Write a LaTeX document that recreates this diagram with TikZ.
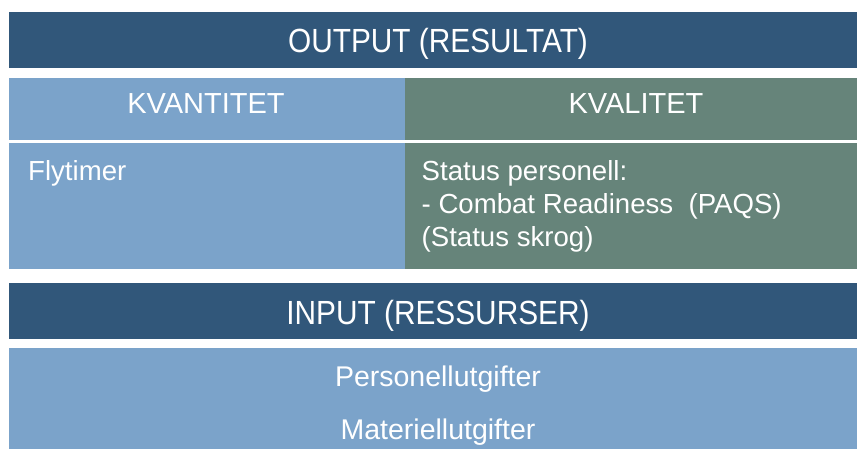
\documentclass[tikz,border=0pt]{standalone}
\usepackage{fontspec}
\setmainfont{Liberation Sans}
\newfontfamily\hdfont[FakeStretch=0.89]{Liberation Sans}
\definecolor{darkbar}{HTML}{31577A}
\definecolor{lightbox}{HTML}{7BA3CA}
\definecolor{greenbox}{HTML}{66847A}
\tikzset{
  panel/.style={anchor=north west, inner sep=0pt, outer sep=0pt, draw=none},
  hdtext/.style={anchor=base, inner sep=0pt, text=white, font=\hdfont\fontsize{33.5}{40}\selectfont},
  subtext/.style={anchor=base, inner sep=0pt, text=white, font=\fontsize{29}{34}\selectfont},
  bodytext/.style={anchor=base west, inner sep=0pt, text=white, font=\fontsize{27.6}{33}\selectfont},
  bttext/.style={anchor=base, inner sep=0pt, text=white, font=\fontsize{28.5}{34}\selectfont},
}
\begin{document}
\begin{tikzpicture}[x=1pt,y=-1pt]
\useasboundingbox (0,0) rectangle (857,449);
\node[panel, fill=darkbar, minimum width=848pt, minimum height=56pt] (out) at (9,12) {};
\node[panel, fill=lightbox, minimum width=396pt, minimum height=62pt] (kvan) at (9,78) {};
\node[panel, fill=greenbox, minimum width=452pt, minimum height=62pt] (kval) at (405,78) {};
\node[panel, fill=lightbox, minimum width=396pt, minimum height=126pt] (flyt) at (9,143) {};
\node[panel, fill=greenbox, minimum width=452pt, minimum height=126pt] (stat) at (405,143) {};
\node[panel, fill=darkbar, minimum width=848pt, minimum height=56pt] (inp) at (9,283) {};
\node[panel, fill=lightbox, minimum width=848pt, minimum height=101pt] (res) at (9,348) {};

\node[hdtext] (outt) at (438,53) {OUTPUT (RESULTAT)};
\node[subtext] (kvant) at (206,113.5) {KVANTITET};
\node[subtext] (kvalt) at (636,113.5) {KVALITET};
\node[bodytext] (flytt) at (28,181) {Flytimer};
\node[bodytext] (stat1) at (421.5,181) {Status personell:};
\node[bodytext] (stat2) at (421.5,214) {- Combat Readiness\ \ (PAQS)};
\node[bodytext] (stat3) at (421.5,247) {(Status skrog)};
\node[hdtext] (inpt) at (438,324) {INPUT (RESSURSER)};
\node[bttext] (res1) at (438,386) {Personellutgifter};
\node[bttext] (res2) at (438,439) {Materiellutgifter};
\end{tikzpicture}
\end{document}
